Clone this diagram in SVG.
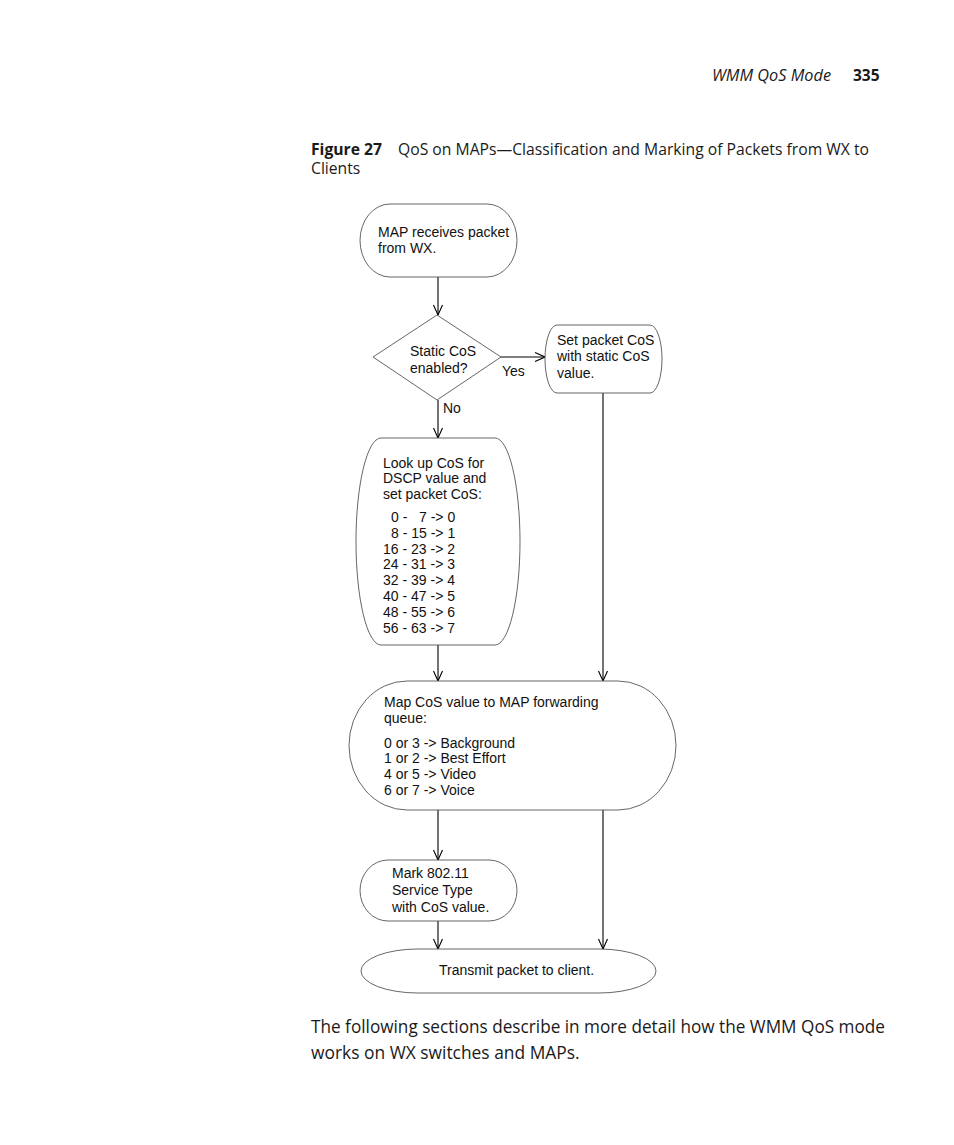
<svg xmlns="http://www.w3.org/2000/svg" width="954" height="1145" viewBox="0 0 954 1145">
<style>
.page{font-family:"Open Sans","DejaVu Sans",sans-serif;fill:#1a1a1a}
.t{font-family:"Liberation Sans",Arial,sans-serif;font-size:14px;fill:#111}
.shape{fill:#fff;stroke:#555;stroke-width:0.9}
.conn{stroke:#000;stroke-width:1.1;fill:none}
</style>
<defs>
<marker id="arr" markerUnits="userSpaceOnUse" markerWidth="12" markerHeight="12" viewBox="0 0 12 12" refX="11" refY="6" orient="auto">
<path d="M1,1.5 L11,6 L1,10.5" fill="none" stroke="#000" stroke-width="1.1"/>
</marker>
</defs>
<rect width="954" height="1145" fill="#fff"/>
<g id="header">
<text class="page" x="831" y="81" font-size="16.3" font-style="italic" text-anchor="end">WMM QoS Mode</text>
<text class="page" x="853" y="81" font-size="15.5" font-weight="bold">335</text>
</g>
<g id="caption">
<text class="page" x="311" y="155" font-size="15.7" font-weight="bold">Figure 27</text>
<text class="page" x="398" y="155" font-size="15.7" textLength="471" lengthAdjust="spacingAndGlyphs">QoS on MAPs—Classification and Marking of Packets from WX to</text>
<text class="page" x="311" y="174" font-size="15.7">Clients</text>
</g>
<g id="connectors">
<line class="conn" x1="438" y1="277" x2="438" y2="315" marker-end="url(#arr)"/>
<line class="conn" x1="501" y1="357" x2="545" y2="357" marker-end="url(#arr)"/>
<line class="conn" x1="438" y1="400" x2="438" y2="438" marker-end="url(#arr)"/>
<line class="conn" x1="603" y1="393" x2="603" y2="681" marker-end="url(#arr)"/>
<line class="conn" x1="438" y1="645" x2="438" y2="681" marker-end="url(#arr)"/>
<line class="conn" x1="438" y1="810" x2="438" y2="860" marker-end="url(#arr)"/>
<line class="conn" x1="603" y1="810" x2="603" y2="949" marker-end="url(#arr)"/>
<line class="conn" x1="438" y1="921" x2="438" y2="949" marker-end="url(#arr)"/>
<text class="t" x="502" y="376">Yes</text>
<text class="t" x="443" y="413">No</text>
</g>
<g id="n1">
<rect class="shape" x="360" y="204" width="157" height="73" rx="30" ry="36.5"/>
<text class="t" x="378" y="237">MAP receives packet</text>
<text class="t" x="378" y="253">from WX.</text>
</g>
<g id="n2">
<polygon class="shape" points="437,315 501,357 437,400 373,357"/>
<text class="t" x="410" y="356">Static CoS</text>
<text class="t" x="410" y="373">enabled?</text>
</g>
<g id="n3">
<rect class="shape" x="545" y="325" width="117" height="68" rx="12" ry="34"/>
<text class="t" x="557" y="345">Set packet CoS</text>
<text class="t" x="557" y="361">with static CoS</text>
<text class="t" x="557" y="378">value.</text>
</g>
<g id="n4">
<rect class="shape" x="356" y="438" width="164" height="207" rx="25" ry="103.5"/>
<text class="t" x="383" y="468">Look up CoS for</text>
<text class="t" x="383" y="483">DSCP value and</text>
<text class="t" x="383" y="499">set packet CoS:</text>
<text class="t" x="391" y="522" xml:space="preserve">0 -   7 -&gt; 0</text>
<text class="t" x="391" y="538">8 - 15 -&gt; 1</text>
<text class="t" x="383" y="554">16 - 23 -&gt; 2</text>
<text class="t" x="383" y="569">24 - 31 -&gt; 3</text>
<text class="t" x="383" y="585">32 - 39 -&gt; 4</text>
<text class="t" x="383" y="601">40 - 47 -&gt; 5</text>
<text class="t" x="383" y="617">48 - 55 -&gt; 6</text>
<text class="t" x="383" y="633">56 - 63 -&gt; 7</text>
</g>
<g id="n5">
<rect class="shape" x="349" y="681" width="327" height="129" rx="58" ry="64.5"/>
<text class="t" x="384" y="707">Map CoS value to MAP forwarding</text>
<text class="t" x="384" y="723">queue:</text>
<text class="t" x="384" y="748">0 or 3 -&gt; Background</text>
<text class="t" x="384" y="763">1 or 2 -&gt; Best Effort</text>
<text class="t" x="384" y="779">4 or 5 -&gt; Video</text>
<text class="t" x="384" y="795">6 or 7 -&gt; Voice</text>
</g>
<g id="n6">
<rect class="shape" x="360" y="860" width="157" height="61" rx="28" ry="30.5"/>
<text class="t" x="392" y="878">Mark 802.11</text>
<text class="t" x="392" y="895">Service Type</text>
<text class="t" x="392" y="912">with CoS value.</text>
</g>
<g id="n7">
<rect class="shape" x="361" y="949" width="295" height="44" rx="57" ry="22"/>
<text class="t" x="439" y="975">Transmit packet to client.</text>
</g>
<g id="body">
<text class="page" x="311" y="1033" font-size="17.4" textLength="574" lengthAdjust="spacingAndGlyphs">The following sections describe in more detail how the WMM QoS mode</text>
<text class="page" x="311" y="1059" font-size="17.4">works on WX switches and MAPs.</text>
</g>
</svg>
